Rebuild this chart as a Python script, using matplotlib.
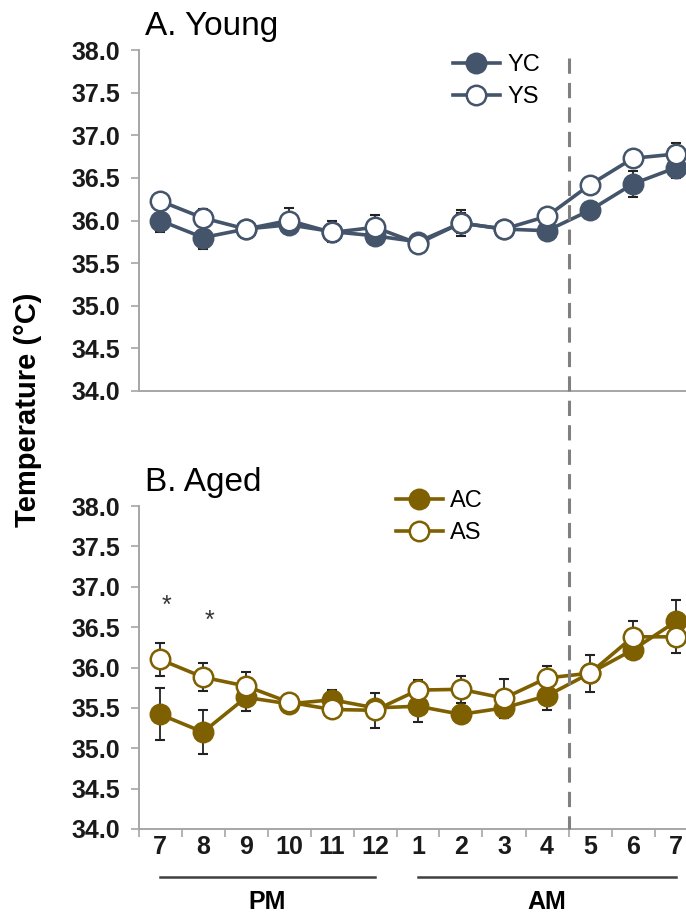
import matplotlib
matplotlib.use('Agg')
import matplotlib.pyplot as plt
import matplotlib.transforms as mtransforms
from matplotlib.lines import Line2D
import numpy as np

# x categories (hour of day)
hours = ['7', '8', '9', '10', '11', '12', '1', '2', '3', '4', '5', '6', '7']

# A. Young
yc_mean = [36.00, 35.80, 35.90, 35.95, 35.87, 35.82, 35.75, 35.97, 35.90, 35.88, 36.12, 36.43, 36.62]
yc_err = [0.13, 0.13, 0.02, 0.10, 0.12, 0.07, 0.08, 0.12, 0.02, 0.05, 0.05, 0.15, 0.12]
ys_mean = [36.23, 36.03, 35.90, 36.00, 35.86, 35.92, 35.73, 35.97, 35.90, 36.05, 36.42, 36.73, 36.78]
ys_err = [0.08, 0.10, 0.02, 0.15, 0.10, 0.15, 0.10, 0.15, 0.02, 0.08, 0.05, 0.10, 0.13]

# B. Aged
ac_mean = [35.42, 35.20, 35.63, 35.55, 35.60, 35.50, 35.52, 35.42, 35.50, 35.65, 35.93, 36.22, 36.57]
ac_err = [0.32, 0.27, 0.17, 0.10, 0.12, 0.10, 0.20, 0.10, 0.12, 0.18, 0.08, 0.10, 0.27]
as_mean = [36.10, 35.88, 35.77, 35.57, 35.48, 35.47, 35.72, 35.73, 35.62, 35.87, 35.93, 36.38, 36.38]
as_err = [0.20, 0.17, 0.17, 0.10, 0.10, 0.22, 0.13, 0.17, 0.24, 0.15, 0.23, 0.20, 0.20]

# significant differences (index, height)
star_idx = [0, 1]
star_y = [36.76, 36.58]

SANS = ['Liberation Sans', 'DejaVu Sans']

slate = '#44546A'
gold = '#7F6000'
spine_gray = '#A6A6A6'


def drawSeries(ax, x, mean, err, color, filled, label):
    ax.errorbar(x, mean, yerr=err, fmt='none', ecolor='#222222', elinewidth=1.3,
                capsize=3.8, capthick=1.5, zorder=2)
    ax.plot(x, mean, '-o', color=color, lw=2.6, ms=14,
            mfc=color if filled else 'white', mec=color, mew=1.8,
            label=label, zorder=3)


def styleAxes(ax):
    ax.set_xlim(-0.5, len(hours) - 0.5)
    ax.set_ylim(34.0, 38.0)
    ax.set_yticks(np.arange(34.0, 38.01, 0.5))
    ax.set_yticklabels(['%.1f' % v for v in np.arange(34.0, 38.01, 0.5)],
                       family=SANS, fontsize=18, fontweight='bold', color='#1a1a1a')
    for side in ['top', 'right']:
        ax.spines[side].set_visible(False)
    for side in ['left', 'bottom']:
        ax.spines[side].set_color(spine_gray)
        ax.spines[side].set_linewidth(1.4)
    ax.tick_params(axis='y', length=6, width=1.2, color=spine_gray, pad=7)


fig = plt.figure(figsize=(6.86, 9.16), dpi=100)
W, H = 686.0, 916.0
left = 138.5 / W
width = 559.0 / W

ax1 = fig.add_axes([left, (H - 391) / H, width, 341 / H])
ax2 = fig.add_axes([left, (H - 829) / H, width, 323 / H])

x = np.arange(len(hours))

drawSeries(ax1, x, yc_mean, yc_err, slate, True, 'YC')
drawSeries(ax1, x, ys_mean, ys_err, slate, False, 'YS')
drawSeries(ax2, x, ac_mean, ac_err, gold, True, 'AC')
drawSeries(ax2, x, as_mean, as_err, gold, False, 'AS')

for ax in [ax1, ax2]:
    styleAxes(ax)

ax1.set_xticks([])

# category boundaries as tick marks, labels at the centres
ax2.set_xticks(np.arange(-0.5, len(hours), 1.0))
ax2.set_xticklabels([])
ax2.set_xticks(x, minor=True)
ax2.set_xticklabels(hours, minor=True, family=SANS, fontsize=18,
                    fontweight='bold', color='#1a1a1a')
ax2.tick_params(axis='x', which='major', length=6, width=1.2, color=spine_gray)
ax2.tick_params(axis='x', which='minor', length=0, pad=4)

for i, yv in zip(star_idx, star_y):
    ax2.text(x[i] + 0.14, yv, '*', ha='center', va='center', fontsize=18,
             family=SANS, color='#333333')

fig.text(145 / W, (H - 35) / H, 'A. Young', fontsize=24, family=SANS,
         va='baseline', ha='left')
fig.text(145 / W, (H - 491) / H, 'B. Aged', fontsize=24, family=SANS,
         va='baseline', ha='left')

fig.text(28 / W, (H - 410) / H, 'Temperature (°C)', rotation=90, fontsize=21,
         fontweight='bold', family=SANS, ha='center', va='center')

ax1.legend(loc='upper left', bbox_to_anchor=(441 / W, (H - 42) / H),
           bbox_transform=fig.transFigure, frameon=False, handlelength=2.0,
           handletextpad=0.3, labelspacing=0.45, borderpad=0,
           prop={'family': SANS, 'size': 17})
ax2.legend(loc='upper left', bbox_to_anchor=(384 / W, (H - 478) / H),
           bbox_transform=fig.transFigure, frameon=False, handlelength=2.0,
           handletextpad=0.3, labelspacing=0.45, borderpad=0,
           prop={'family': SANS, 'size': 17})

# dashed divider between 4 and 5 AM, running through both panels
trans = mtransforms.blended_transform_factory(ax2.transData, fig.transFigure)
fig.add_artist(Line2D([9.5, 9.5], [(H - 58) / H, (H - 829) / H], transform=trans,
                      color='#808080', lw=2.2, ls=(0, (5, 3)), zorder=5))

# PM / AM brackets under the axis
trans2 = mtransforms.blended_transform_factory(ax2.transData, ax2.transAxes)
ax2.plot([0, 5], [-0.149, -0.149], color='#404040', lw=1.8, transform=trans2, clip_on=False)
ax2.plot([6, 12], [-0.149, -0.149], color='#404040', lw=1.8, transform=trans2, clip_on=False)
ax2.text(2.5, -0.225, 'PM', transform=trans2, ha='center', va='center',
         fontsize=18, fontweight='bold', family=SANS)
ax2.text(9.0, -0.225, 'AM', transform=trans2, ha='center', va='center',
         fontsize=18, fontweight='bold', family=SANS)

fig.savefig('out.png', dpi=100)
